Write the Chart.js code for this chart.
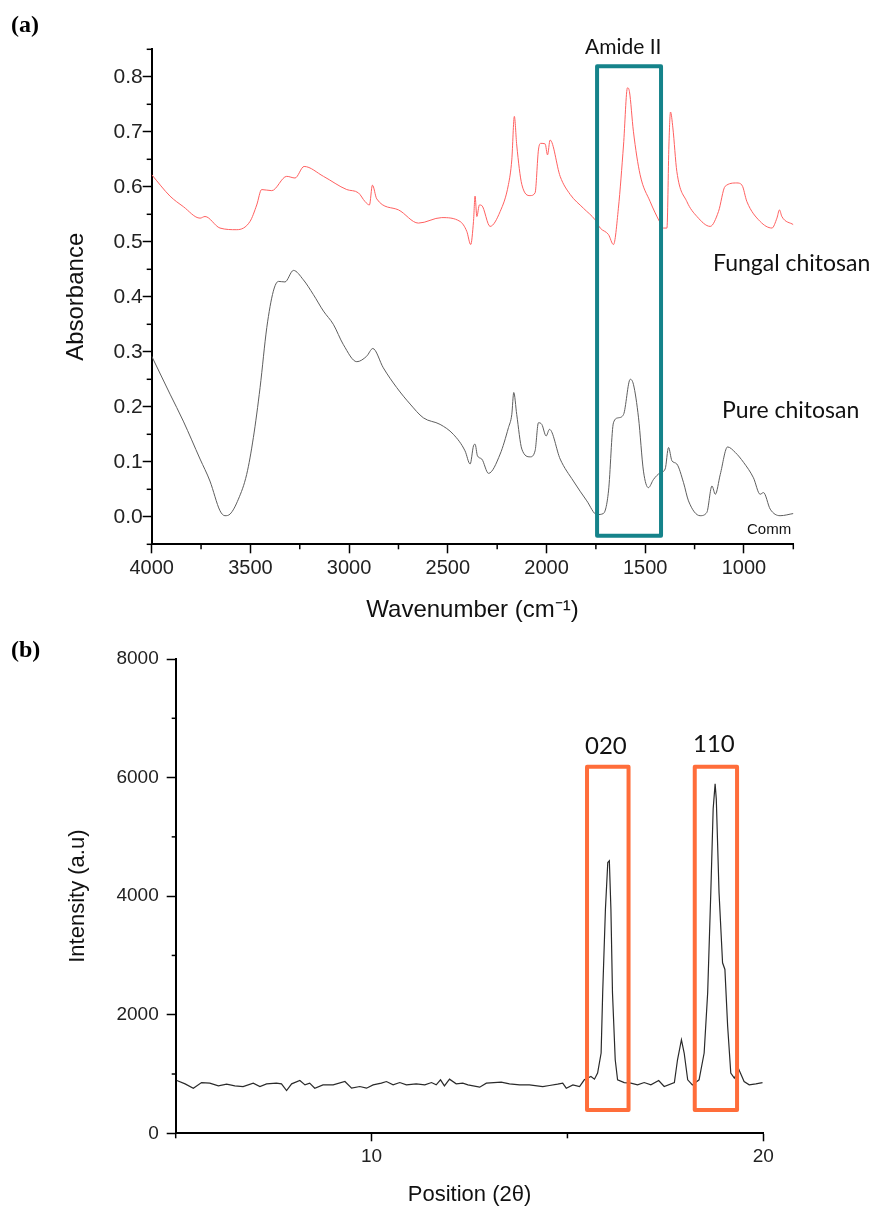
<!DOCTYPE html>
<html><head><meta charset="utf-8">
<script src="https://cdn.jsdelivr.net/npm/chart.js@4.4.0/dist/chart.umd.min.js"></script>
<style>
html,body{margin:0;padding:0;background:#fff;}
body{width:875px;height:1208px;position:relative;overflow:hidden;}
canvas{position:absolute;left:0;}
.lbl{position:absolute;white-space:nowrap;line-height:1;color:#111;}
.cal{font-family:Lato,"Open Sans",sans-serif;}
.ari{font-family:"Liberation Sans",Arial,sans-serif;}
.panel{font-family:"Liberation Serif","Times New Roman",serif;font-weight:bold;font-size:24px;color:#000;}
</style></head><body>
<canvas id="c1" width="875" height="630" style="top:0"></canvas>
<canvas id="c2" width="875" height="578" style="top:630px"></canvas>
<div class="lbl panel" style="left:11px;top:12px">(a)</div>
<div class="lbl panel" style="left:11px;top:637px">(b)</div>
<div class="lbl cal" style="left:585px;top:35px;font-size:21px">Amide II</div>
<div class="lbl cal" style="left:713px;top:251px;font-size:23px">Fungal chitosan</div>
<div class="lbl cal" style="left:722px;top:398px;font-size:23px">Pure chitosan</div>
<div class="lbl ari" style="left:747px;top:521px;font-size:15px">Comm</div>
<div class="lbl cal" style="left:585px;top:733px;font-size:24px">020</div>
<div class="lbl cal" style="left:693px;top:731px;font-size:24px">110</div>
<script>
// ---------- FTIR (a) ----------
const fungalWavenumber = [4000,3907,3840,3755,3730,3654,3569,3502,3468,3443,3392,3316,3274,3228,3130,3012,2953,2919,2897,2882,2860,2750,2649,2531,2438,2404,2384,2370,2362,2353,2340,2328,2286,2235,2193,2176,2163,2151,2125,2083,2058,2041,2029,2007,1995,1982,1931,1880,1813,1754,1728,1686,1661,1636,1610,1590,1580,1560,1526,1475,1428,1408,1390,1380,1372,1360,1340,1289,1238,1171,1129,1095,1036,1010,985,918,858,833,820,808,749];
const fungalAbsorbance = [0.622,0.583,0.564,0.543,0.546,0.525,0.522,0.537,0.567,0.595,0.593,0.619,0.616,0.637,0.619,0.595,0.589,0.573,0.567,0.603,0.578,0.558,0.534,0.544,0.537,0.519,0.495,0.537,0.583,0.546,0.567,0.566,0.528,0.555,0.604,0.649,0.728,0.676,0.604,0.584,0.589,0.667,0.679,0.678,0.658,0.685,0.619,0.586,0.561,0.540,0.525,0.513,0.495,0.561,0.676,0.780,0.773,0.701,0.622,0.573,0.537,0.525,0.525,0.676,0.736,0.707,0.628,0.573,0.546,0.528,0.555,0.601,0.607,0.603,0.573,0.537,0.525,0.543,0.558,0.546,0.531];
const pureWavenumber = [4000,3907,3840,3755,3705,3654,3629,3603,3561,3519,3485,3451,3417,3384,3358,3325,3282,3232,3181,3130,3080,3029,2961,2911,2880,2827,2759,2691,2624,2539,2472,2413,2387,2370,2362,2350,2328,2294,2235,2193,2176,2166,2151,2125,2083,2058,2041,2024,2002,1985,1931,1864,1796,1745,1712,1686,1661,1636,1610,1576,1560,1534,1509,1484,1458,1424,1399,1382,1365,1340,1306,1281,1222,1188,1162,1145,1120,1083,1044,1002,952,918,901,867,817,749];
const pureAbsorbance = [0.292,0.223,0.174,0.105,0.065,0.011,0.002,0.005,0.032,0.077,0.144,0.235,0.344,0.410,0.428,0.427,0.448,0.431,0.404,0.374,0.350,0.313,0.282,0.292,0.306,0.271,0.235,0.205,0.180,0.168,0.150,0.120,0.096,0.129,0.132,0.111,0.105,0.079,0.114,0.162,0.186,0.226,0.186,0.123,0.109,0.120,0.171,0.168,0.147,0.159,0.105,0.065,0.029,0.004,0.006,0.047,0.171,0.180,0.186,0.250,0.241,0.180,0.083,0.053,0.068,0.080,0.087,0.126,0.102,0.096,0.062,0.029,0.002,0.008,0.056,0.041,0.077,0.127,0.117,0.099,0.071,0.041,0.044,0.014,0.002,0.006];
const ftirXTicks = [4000,3500,3000,2500,2000,1500,1000];
const ftirXTickLabels = ['4000','3500','3000','2500','2000','1500','1000'];
const ftirXMinor = [3750,3250,2750,2250,1750,1250,750];
const ftirYTicks = [0,0.1,0.2,0.3,0.4,0.5,0.6,0.7,0.8];
const ftirYTickLabels = ['0.0','0.1','0.2','0.3','0.4','0.5','0.6','0.7','0.8'];
const ftirYMinor = [-0.05,0.05,0.15,0.25,0.35,0.45,0.55,0.65,0.75,0.85];
const amideBoxX = [1744,1420];
const amideBoxY = [-0.0345,0.819];

// ---------- XRD (b) ----------
const xrdTheta = [5.03,5.24,5.45,5.66,5.87,6.09,6.30,6.51,6.72,6.98,7.15,7.32,7.57,7.70,7.83,7.96,8.17,8.30,8.42,8.55,8.76,9.02,9.32,9.49,9.70,9.87,10.04,10.25,10.38,10.55,10.72,10.89,11.14,11.36,11.53,11.65,11.76,11.86,11.99,12.16,12.33,12.46,12.76,12.93,13.31,13.52,13.78,14.03,14.37,14.54,14.75,14.88,14.97,15.14,15.31,15.43,15.60,15.69,15.77,15.86,15.90,15.97,16.03,16.07,16.11,16.15,16.22,16.28,16.45,16.62,16.79,16.96,17.13,17.33,17.47,17.73,17.81,17.91,17.98,18.07,18.19,18.36,18.49,18.58,18.66,18.72,18.77,18.80,18.87,18.96,19.02,19.09,19.17,19.26,19.38,19.51,19.64,19.81,19.98];
const xrdIntensity = [890,834,761,856,846,800,829,800,789,846,789,834,846,834,721,834,890,817,846,761,817,817,873,761,789,761,817,846,873,817,856,817,834,817,856,817,902,800,913,834,846,817,778,846,863,834,817,817,789,806,829,846,761,817,789,902,958,913,1015,1354,2369,3778,4568,4596,3778,2369,1240,902,856,846,817,856,817,890,789,856,1240,1579,1354,902,817,902,1354,2369,4061,5470,5893,5640,4061,2876,2763,1804,1015,931,1071,873,817,834,856];
const xrdXTicks = [10,20];
const xrdXTickLabels = ['10','20'];
const xrdXMinor = [5,15];
const xrdYTicks = [0,2000,4000,6000,8000];
const xrdYTickLabels = ['0','2000','4000','6000','8000'];
const xrdYMinor = [1000,3000,5000,7000];
const box020X = [15.50,16.56];
const box110X = [18.25,19.33];
const peakBoxY = [394,6181];

const FONT = '"Liberation Sans", Arial, sans-serif';

const minorTicks = {
  id: 'minorTicks',
  afterDraw(chart, args, opts) {
    const ctx = chart.ctx, xs = chart.scales.x, ys = chart.scales.y;
    ctx.save(); ctx.strokeStyle = '#000'; ctx.lineWidth = 1.5;
    (opts.x || []).forEach(v => { const p = xs.getPixelForValue(v); ctx.beginPath(); ctx.moveTo(p, chart.chartArea.bottom); ctx.lineTo(p, chart.chartArea.bottom + opts.xlen); ctx.stroke(); });
    (opts.y || []).forEach(v => { const p = ys.getPixelForValue(v); ctx.beginPath(); ctx.moveTo(chart.chartArea.left, p); ctx.lineTo(chart.chartArea.left - opts.ylen, p); ctx.stroke(); });
    ctx.restore();
  }
};
const boxes = {
  id: 'boxes',
  afterDatasetsDraw(chart, args, opts) {
    const ctx = chart.ctx, xs = chart.scales.x, ys = chart.scales.y;
    ctx.save(); ctx.strokeStyle = opts.color; ctx.lineWidth = opts.width; ctx.lineJoin = 'round';
    (opts.items || []).forEach(b => {
      const x1 = xs.getPixelForValue(b.x[0]), x2 = xs.getPixelForValue(b.x[1]);
      const y1 = ys.getPixelForValue(b.y[0]), y2 = ys.getPixelForValue(b.y[1]);
      ctx.strokeRect(Math.min(x1,x2), Math.min(y1,y2), Math.abs(x2-x1), Math.abs(y2-y1));
    });
    ctx.restore();
  }
};
const zip = (xs, ys) => xs.map((x, i) => ({x: x, y: ys[i]}));

function axisCommon(o) {
  return Object.assign({
    type: 'linear',
    border: {display: true, color: '#000', width: 2},
    grid: {display: true, drawOnChartArea: false, drawTicks: true, color: '#000', tickColor: '#000', tickWidth: 1.5},
  }, o);
}

new Chart(document.getElementById('c1'), {
  type: 'line',
  data: {datasets: [
    {data: zip(fungalWavenumber, fungalAbsorbance), borderColor: '#ff6060', borderWidth: 1, pointRadius: 0, cubicInterpolationMode: 'monotone'},
    {data: zip(pureWavenumber, pureAbsorbance), borderColor: '#5e5e5e', borderWidth: 1, pointRadius: 0, cubicInterpolationMode: 'monotone'}
  ]},
  options: {
    responsive: false, animation: false, devicePixelRatio: 1,
    layout: {padding: {left: 0, top: 49.3, right: 81.7, bottom: 0}},
    plugins: {legend: {display: false}, tooltip: {enabled: false},
      minorTicks: {x: ftirXMinor, y: ftirYMinor, xlen: 5, ylen: 5},
      boxes: {color: '#15838a', width: 4, items: [{x: amideBoxX, y: amideBoxY}]}},
    scales: {
      x: axisCommon({min: 750, max: 4000, reverse: true,
        grid: {display: true, drawOnChartArea: false, drawTicks: true, tickLength: 9, tickColor: '#000', tickWidth: 1.5},
        afterBuildTicks: s => { s.ticks = ftirXTicks.map(v => ({value: v})); },
        afterFit: s => { s.height = 85.7; },
        ticks: {color: '#222', font: {family: FONT, size: 20}, padding: 3, maxRotation: 0, autoSkip: false,
          callback: (v, i) => ftirXTickLabels[i]},
        title: {display: true, text: 'Wavenumber (cm\u207B\u00B9)', color: '#111', font: {family: FONT, size: 24}, padding: {top: 0, bottom: 5.6}}
      }),
      y: axisCommon({min: -0.05, max: 0.85,
        grid: {display: true, drawOnChartArea: false, drawTicks: true, tickLength: 9, tickColor: '#000', tickWidth: 1.5},
        afterBuildTicks: s => { s.ticks = ftirYTicks.map(v => ({value: v})); },
        afterFit: s => { s.width = 151.7; },
        ticks: {color: '#222', font: {family: FONT, size: 21}, padding: 0, autoSkip: false,
          callback: (v, i) => ftirYTickLabels[i]},
        title: {display: true, text: 'Absorbance', color: '#111', font: {family: FONT, size: 24}, padding: {top: 61.6, bottom: 0}}
      })
    }
  },
  plugins: [minorTicks, boxes]
});

new Chart(document.getElementById('c2'), {
  type: 'line',
  data: {datasets: [
    {data: zip(xrdTheta, xrdIntensity), borderColor: '#2a2a2a', borderWidth: 1.2, pointRadius: 0, tension: 0}
  ]},
  options: {
    responsive: false, animation: false, devicePixelRatio: 1,
    layout: {padding: {left: 0, top: 29, right: 111.7, bottom: 0}},
    plugins: {legend: {display: false}, tooltip: {enabled: false},
      minorTicks: {x: xrdXMinor, y: xrdYMinor, xlen: 5, ylen: 4},
      boxes: {color: '#ff6d3a', width: 4, items: [{x: box020X, y: peakBoxY}, {x: box110X, y: peakBoxY}]}},
    scales: {
      x: axisCommon({min: 5, max: 20,
        grid: {display: true, drawOnChartArea: false, drawTicks: true, tickLength: 8, tickColor: '#000', tickWidth: 1.5},
        afterBuildTicks: s => { s.ticks = xrdXTicks.map(v => ({value: v})); },
        afterFit: s => { s.height = 74.7; },
        ticks: {color: '#222', font: {family: FONT, size: 19}, padding: 4, maxRotation: 0, autoSkip: false,
          callback: (v, i) => xrdXTickLabels[i]},
        title: {display: true, text: 'Position (2\u03B8)', color: '#111', font: {family: FONT, size: 22}, padding: {top: 0, bottom: 0}}
      }),
      y: axisCommon({min: 0, max: 8000,
        grid: {display: true, drawOnChartArea: false, drawTicks: true, tickLength: 9, tickColor: '#000', tickWidth: 1.5},
        afterBuildTicks: s => { s.ticks = xrdYTicks.map(v => ({value: v})); },
        afterFit: s => { s.width = 175.7; },
        ticks: {color: '#222', font: {family: FONT, size: 19}, padding: 8, autoSkip: false,
          callback: (v, i) => xrdYTickLabels[i]},
        title: {display: true, text: 'Intensity (a.u)', color: '#111', font: {family: FONT, size: 22}, padding: {top: 64.8, bottom: 0}}
      })
    }
  },
  plugins: [minorTicks, boxes]
});
</script>
</body></html>
